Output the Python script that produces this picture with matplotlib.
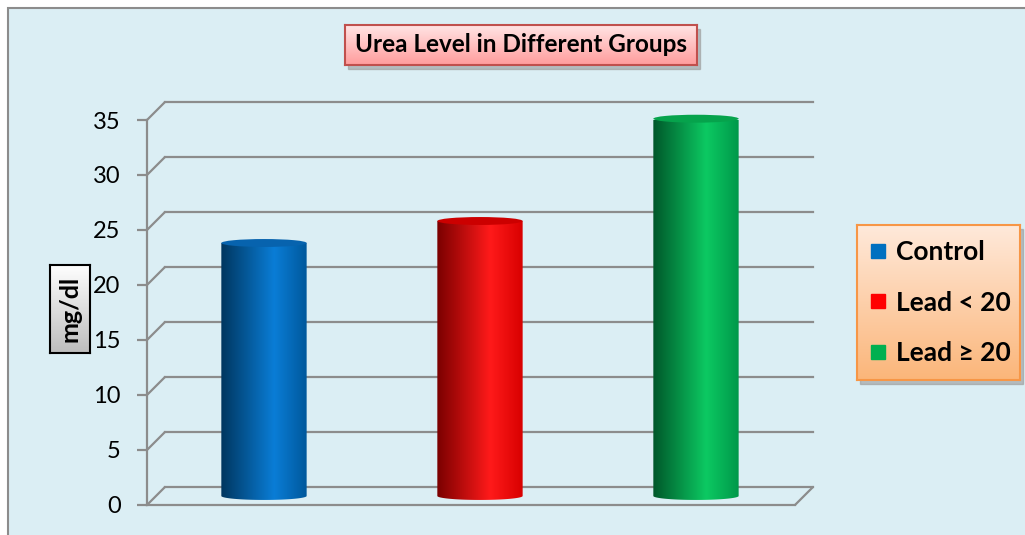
import numpy as np
import matplotlib
matplotlib.use("Agg")
import matplotlib.pyplot as plt
import matplotlib.transforms as mtransforms
from matplotlib.patches import Rectangle, Ellipse, PathPatch, ConnectionPatch
from matplotlib.path import Path
from matplotlib.lines import Line2D
from matplotlib.colors import to_rgb

plt.rcParams["font.family"] = ["Lato", "DejaVu Sans"]

###############################################
# DATA
###############################################

groups = ["Control", "Lead < 20", "Lead \u2265 20"]
urea = [23.0, 25.0, 34.3]
yticks = [0, 5, 10, 15, 20, 25, 30, 35]

# styles
body_cols = [("#00365F", "#0A7DD6", "#00589C"),
             ("#7A0000", "#FF1A1A", "#D80000"),
             ("#00572A", "#0CC962", "#00984A")]
top_cols = ["#0763AE", "#CC0000", "#06A34C"]
legend_cols = ["#0070C0", "#FF0000", "#00B050"]
grid_col = "#8C8C8C"
bg_col = "#DBEEF4"


def hgrad(stops_cols, stops=(0.0, 0.62, 1.0), n=200):
    t = np.linspace(0, 1, n)
    cols = np.array([to_rgb(c) for c in stops_cols])
    img = np.stack([np.interp(t, stops, cols[:, k]) for k in range(3)], axis=-1)
    return img[np.newaxis, :, :]


def vgrad(c_top, c_bot, n=100):
    t = np.linspace(0, 1, n)
    a, b = np.array(to_rgb(c_top)), np.array(to_rgb(c_bot))
    img = a[None, :] * (1 - t[:, None]) + b[None, :] * t[:, None]
    return img[:, np.newaxis, :]


def grad_box(fig, rect, c_top, c_bot, edge, lw=1.5, shadow=True):
    if shadow:
        sh = fig.add_axes(rect)
        sh.set_axis_off()
        off = mtransforms.offset_copy(sh.transAxes, fig=fig, x=3, y=-4, units="dots")
        sh.add_patch(Rectangle((0, 0), 1, 1, transform=off, color="#9A9A9A",
                               alpha=0.6, clip_on=False))
    bx = fig.add_axes(rect)
    bx.imshow(vgrad(c_top, c_bot), extent=(0, 1, 0, 1), aspect="auto")
    bx.set_xlim(0, 1)
    bx.set_ylim(0, 1)
    bx.set_xticks([])
    bx.set_yticks([])
    for s in bx.spines.values():
        s.set_color(edge)
        s.set_linewidth(lw)
    return bx


###############################################
# FIGURE
###############################################

fig = plt.figure(figsize=(10.25, 5.35), dpi=100)
fig.patch.set_facecolor("white")
fig.patches.append(Rectangle((0.0078, -0.02), 1.05, 1.005, transform=fig.transFigure,
                             facecolor=bg_col, edgecolor="#8C8C8C", lw=1.5,
                             zorder=-10))

ax = fig.add_axes([0.1434, 0.0561, 0.6322, 0.7196])
ax.patch.set_visible(False)

back = mtransforms.offset_copy(ax.transData, fig=fig, x=18, y=18, units="dots")
mid = mtransforms.offset_copy(ax.transData, fig=fig, x=9, y=9, units="dots")

xmin, xmax = -0.5, len(groups) - 0.5

# back wall gridlines + left diagonals
for v in yticks:
    ax.plot([xmin, xmax], [v, v], color=grid_col, lw=1.6, transform=back,
            clip_on=False, zorder=1)
    ax.add_artist(ConnectionPatch((xmin, v), (xmin, v), coordsA=ax.transData,
                                  coordsB=back, color=grid_col, lw=1.6,
                                  clip_on=False, zorder=1))
# floor right edge
ax.add_artist(ConnectionPatch((xmax, 0), (xmax, 0), coordsA=ax.transData,
                              coordsB=back, color=grid_col, lw=1.6,
                              clip_on=False, zorder=1))

# cylinders
w = 0.395
eh = 0.36
for i, v in enumerate(urea):
    xl, xr = i - w / 2, i + w / 2
    t = np.linspace(np.pi, 2 * np.pi, 40)
    verts = [(xl, v)] + [(i + w / 2 * np.cos(a), eh * np.sin(a)) for a in t] + [(xr, v), (xl, v)]
    codes = [Path.MOVETO] + [Path.LINETO] * (len(verts) - 2) + [Path.CLOSEPOLY]
    clip = PathPatch(Path(verts, codes), transform=mid, facecolor="none", edgecolor="none")
    im = ax.imshow(hgrad(body_cols[i]), extent=(xl, xr, -eh, v), aspect="auto",
                   transform=mid, zorder=3, interpolation="bilinear")
    im.set_clip_path(clip)
    ax.add_patch(Ellipse((i, v), w, 2 * eh, transform=mid, facecolor=top_cols[i],
                         edgecolor="none", zorder=4, clip_on=False))

ax.set_xlim(xmin, xmax)
ax.set_ylim(0, 35)
ax.set_xticks([])
ax.set_yticks(yticks)
ax.tick_params(axis="y", length=7, width=1.6, color=grid_col, labelsize=17, pad=12)
for k in ["top", "right"]:
    ax.spines[k].set_visible(False)
for k in ["left", "bottom"]:
    ax.spines[k].set_color(grid_col)
    ax.spines[k].set_linewidth(1.6)

# title box
tb = grad_box(fig, [0.3366, 0.8785, 0.3434, 0.0748], "#FFE6E6", "#FF9C9C", "#C0504D")
tb.text(0.5, 0.5, "Urea Level in Different Groups", ha="center", va="center",
        fontsize=17.5, fontweight="bold", transform=tb.transAxes)

# y label box
yb = grad_box(fig, [0.0488, 0.340, 0.039, 0.1645], "#FFFFFF", "#BDBDBD", "black",
              shadow=False)
yb.text(0.5, 0.5, "mg/dl", rotation=90, ha="center", va="center",
        fontsize=18, fontweight="bold", transform=yb.transAxes)

# legend
lb = grad_box(fig, [0.836, 0.2897, 0.159, 0.2897], "#FFE9DA", "#FBB67A", "#F79646")
handles = [Line2D([], [], marker="s", linestyle="", markersize=10, color=c)
           for c in legend_cols]
lb.legend(handles, groups, loc="center left", bbox_to_anchor=(0.08, 0.5),
          frameon=False, handletextpad=0.38, labelspacing=1.0,
          prop={"weight": "bold", "size": 19}, handlelength=0.6,
          borderpad=0, borderaxespad=0)

fig.savefig("out.png", dpi=100)
